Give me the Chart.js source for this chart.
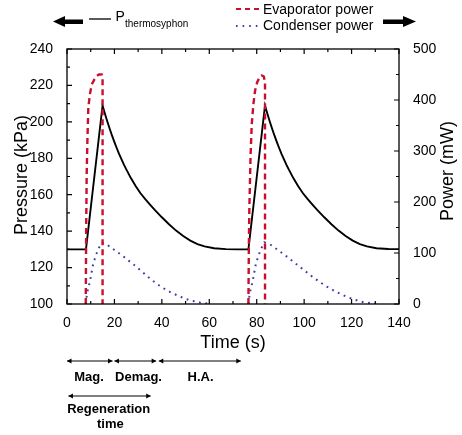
<!DOCTYPE html>
<html>
<head>
<meta charset="utf-8">
<script src="https://cdn.jsdelivr.net/npm/chart.js@4"></script>
<style>
  html, body { margin: 0; padding: 0; background: #fff; }
  canvas { display: block; }
</style>
</head>
<body>
<canvas id="chart" width="462" height="435"></canvas>
<script>
  // ---- data ----
  const pressTime = [0, 8, 15, 16, 17, 18, 19, 20, 21, 22, 23, 24, 25, 27, 29, 31, 33, 35, 37, 40, 43, 46, 49, 52, 55, 58, 62, 67, 72, 76.5,
                     83.5, 84.5, 85.5, 86.5, 87.5, 88.5, 89.5, 90.5, 91.5, 92.5, 93.5, 95.5, 97.5, 99.5, 101.5, 103.5, 105.5, 108.5, 111.5, 114.5, 117.5, 120.5, 123.5, 126.5, 130.5, 135.5, 140];
  const pressKpa  = [130, 130, 209, 204.5, 200.2, 196.2, 192.4, 188.9, 185.5, 182.3, 179.4, 176.5, 173.9, 169, 164.7, 160.8, 157.6, 154.6, 151.7, 147.6, 143.8, 140.3, 137.3, 134.8, 132.9, 131.6, 130.6, 130.1, 130, 130,
                     209, 204.5, 200.2, 196.2, 192.4, 188.9, 185.5, 182.3, 179.4, 176.5, 173.9, 169, 164.7, 160.8, 157.6, 154.6, 151.7, 147.6, 143.8, 140.3, 137.3, 134.8, 132.9, 131.6, 130.6, 130.2, 130.1];

  const evapTime = [7.9, 8.1, 8.3, 8.6, 9, 9.7, 10.4, 11.5, 12.5, 13.5, 14.6, 15, 15, 40,
                    76.5, 76.7, 76.9, 77.4, 77.9, 78.6, 79.3, 80.2, 81.2, 82.1, 83, 83.5, 83.5];
  const evapMw   = [0, 150, 254, 320, 386, 412, 430, 440, 447, 450, 450, 442, 0, null,
                    0, 120, 189, 290, 352, 392, 418, 435, 444, 448, 446, 435, 0];

  const condTime = [7.9, 8.5, 9.7, 11.1, 13, 14.6, 17, 20, 23, 26, 29, 32, 35, 38, 41, 44, 47, 50, 53, 56, 59, 60, 68,
                    76.5, 77.1, 78.3, 79.7, 81.6, 83.2, 85.6, 88.6, 91.6, 94.6, 97.6, 100.6, 103.6, 106.6, 109.6, 112.6, 115.6, 118.6, 121.6, 124.6, 127.6, 130.5];
  const condMw   = [0, 22, 45, 80, 106, 120, 116, 106, 96, 85, 74, 62, 50, 39, 30, 22, 16, 10, 6, 3, 1, 0, null,
                    0, 22, 45, 80, 106, 121, 117, 107, 97, 86, 75, 64, 53, 43, 34, 26, 19, 13, 8, 4, 2, 0];

  const xTicks  = [0, 20, 40, 60, 80, 100, 120, 140];
  const yTicks  = [100, 120, 140, 160, 180, 200, 220, 240];
  const y1Ticks = [0, 100, 200, 300, 400, 500];

  // phase annotations below the axis (time spans, s)
  const phaseSpans  = [[0, 19.2], [20, 37.6], [38.7, 73.3]];
  const phaseLabels = ['Mag.', 'Demag.', 'H.A.'];
  const regenSpan   = [0.6, 35.3];

  const FONT = '"Liberation Sans", Arial, sans-serif';
  const RED  = '#c8102e';
  const BLUE = '#3c3ca8';

  const pts = (t, v) => t.map((x, i) => ({ x: x, y: v[i] }));

  function arrow(ctx, x1, y, x2) {
    ctx.beginPath();
    ctx.moveTo(x1, y); ctx.lineTo(x2, y); ctx.stroke();
    ctx.beginPath();
    ctx.moveTo(x1, y); ctx.lineTo(x1 + 4.5, y - 2.5); ctx.lineTo(x1 + 4.5, y + 2.5); ctx.closePath();
    ctx.moveTo(x2, y); ctx.lineTo(x2 - 4.5, y - 2.5); ctx.lineTo(x2 - 4.5, y + 2.5); ctx.closePath();
    ctx.fill();
  }

  const decor = {
    id: 'decor',
    afterDraw(chart) {
      const ctx = chart.ctx, a = chart.chartArea;
      const x = chart.scales.x, y = chart.scales.y, y1 = chart.scales.y1;
      ctx.save();
      ctx.strokeStyle = '#000'; ctx.fillStyle = '#000';
      // frame
      ctx.lineWidth = 1.3;
      ctx.strokeRect(a.left, a.top, a.right - a.left, a.bottom - a.top);
      // inward ticks
      ctx.lineWidth = 1.2;
      ctx.beginPath();
      for (let t = 0; t <= 140; t += 10) {
        const px = x.getPixelForValue(t), len = t % 20 === 0 ? 5 : 3;
        ctx.moveTo(px, a.bottom); ctx.lineTo(px, a.bottom - len);
        ctx.moveTo(px, a.top);    ctx.lineTo(px, a.top + len);
      }
      for (let p = 100; p <= 240; p += 10) {
        const py = y.getPixelForValue(p), len = p % 20 === 0 ? 5 : 3;
        ctx.moveTo(a.left, py); ctx.lineTo(a.left + len, py);
      }
      for (let w = 0; w <= 500; w += 50) {
        const py = y1.getPixelForValue(w), len = w % 100 === 0 ? 5 : 3;
        ctx.moveTo(a.right, py); ctx.lineTo(a.right - len, py);
      }
      ctx.stroke();

      // axis titles
      ctx.font = '18px ' + FONT;
      ctx.textAlign = 'center'; ctx.textBaseline = 'middle';
      ctx.fillText('Time (s)', (a.left + a.right) / 2, 343);
      ctx.save(); ctx.translate(22, 175); ctx.rotate(-Math.PI / 2);
      ctx.fillText('Pressure (kPa)', 0, 0); ctx.restore();
      ctx.save(); ctx.translate(448, 171); ctx.rotate(-Math.PI / 2);
      ctx.fillText('Power (mW)', 0, 0); ctx.restore();

      // legend
      ctx.beginPath();                       // left big arrow
      ctx.moveTo(53, 21.5); ctx.lineTo(65, 16); ctx.lineTo(65, 27); ctx.closePath(); ctx.fill();
      ctx.fillRect(64, 19.5, 19, 4.5);
      ctx.beginPath();                       // right big arrow
      ctx.moveTo(416, 21.5); ctx.lineTo(403, 16); ctx.lineTo(403, 27); ctx.closePath(); ctx.fill();
      ctx.fillRect(383, 19.5, 21, 4.5);

      ctx.lineWidth = 1.3;
      ctx.beginPath(); ctx.moveTo(89, 19); ctx.lineTo(111, 19); ctx.stroke();
      ctx.textAlign = 'left'; ctx.textBaseline = 'alphabetic';
      ctx.font = '14px ' + FONT;
      ctx.fillText('P', 115.5, 21);
      ctx.font = '10px ' + FONT;
      ctx.fillText('thermosyphon', 125, 26.5);

      ctx.lineWidth = 2;
      ctx.strokeStyle = RED; ctx.setLineDash([5, 4]);
      ctx.beginPath(); ctx.moveTo(236, 9); ctx.lineTo(262, 9); ctx.stroke();
      ctx.strokeStyle = BLUE; ctx.setLineDash([1.6, 5]);
      ctx.beginPath(); ctx.moveTo(236, 26); ctx.lineTo(258, 26); ctx.stroke();
      ctx.setLineDash([]);
      ctx.font = '14px ' + FONT;
      ctx.fillText('Evaporator power', 263, 13.5);
      ctx.fillText('Condenser power', 263, 30);

      // phase annotations
      ctx.strokeStyle = '#000'; ctx.lineWidth = 1;
      ctx.font = 'bold 13px ' + FONT;
      ctx.textAlign = 'center'; ctx.textBaseline = 'middle';
      phaseSpans.forEach(s => {
        arrow(ctx, x.getPixelForValue(s[0]), 361, x.getPixelForValue(s[1]));
      });
      ctx.fillText(phaseLabels[0], 89, 377);
      ctx.fillText(phaseLabels[1], 138.5, 377);
      ctx.fillText(phaseLabels[2], 200.5, 377);
      arrow(ctx, x.getPixelForValue(regenSpan[0]), 396, x.getPixelForValue(regenSpan[1]));
      ctx.fillText('Regeneration', 108.7, 409.5);
      ctx.fillText('time', 110.3, 424.5);
      ctx.restore();
    }
  };

  Chart.defaults.font.family = FONT;
  Chart.defaults.color = '#000';

  new Chart(document.getElementById('chart'), {
    type: 'line',
    data: {
      datasets: [
        {
          label: 'Evaporator power',
          data: pts(evapTime, evapMw),
          yAxisID: 'y1',
          borderColor: RED,
          borderWidth: 2.4,
          borderDash: [6, 4],
          pointRadius: 0,
          spanGaps: false,
          order: 1
        },
        {
          label: 'Condenser power',
          data: pts(condTime, condMw),
          yAxisID: 'y1',
          borderColor: BLUE,
          borderWidth: 2,
          borderDash: [1.8, 4.6],
          pointRadius: 0,
          spanGaps: false,
          order: 2
        },
        {
          label: 'P thermosyphon',
          data: pts(pressTime, pressKpa),
          yAxisID: 'y',
          borderColor: '#000',
          borderWidth: 1.9,
          pointRadius: 0,
          order: 3
        }
      ]
    },
    options: {
      responsive: false,
      animation: false,
      devicePixelRatio: 1,
      layout: { padding: { top: 49, left: 0, right: 0, bottom: 0 } },
      plugins: { legend: { display: false }, tooltip: { enabled: false } },
      scales: {
        x: {
          type: 'linear', min: 0, max: 140,
          afterBuildTicks: s => { s.ticks = xTicks.map(v => ({ value: v })); },
          afterFit: s => { s.height = 131; },
          ticks: { font: { size: 14 }, padding: 3, maxRotation: 0 },
          grid: { display: false }, border: { display: false }
        },
        y: {
          position: 'left', min: 100, max: 240,
          afterBuildTicks: s => { s.ticks = yTicks.map(v => ({ value: v })); },
          afterFit: s => { s.width = 67; },
          ticks: { font: { size: 14 }, padding: 6 },
          grid: { display: false }, border: { display: false }
        },
        y1: {
          position: 'right', min: 0, max: 500,
          afterBuildTicks: s => { s.ticks = y1Ticks.map(v => ({ value: v })); },
          afterFit: s => { s.width = 63; },
          ticks: { font: { size: 14 }, padding: 6 },
          grid: { display: false }, border: { display: false }
        }
      }
    },
    plugins: [decor]
  });
</script>
</body>
</html>
